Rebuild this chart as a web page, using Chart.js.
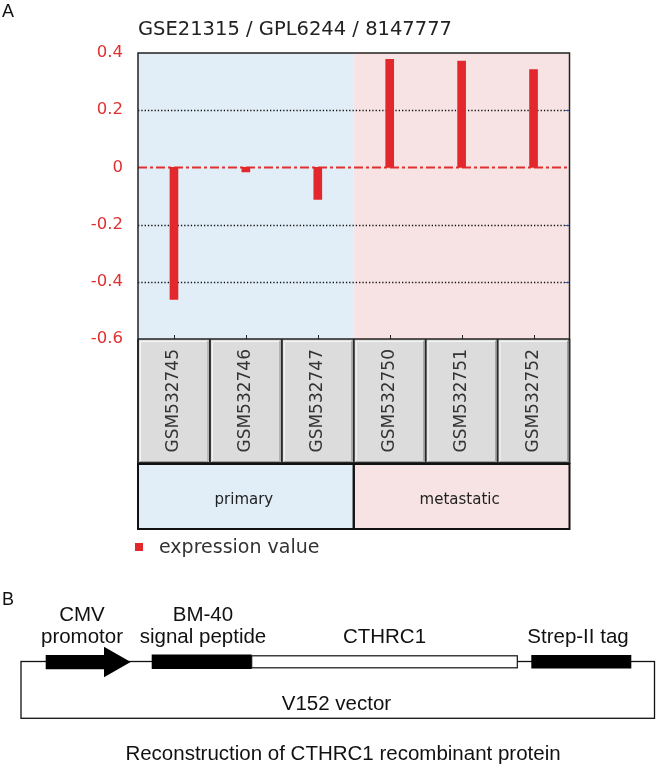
<!DOCTYPE html>
<html>
<head>
<meta charset="utf-8">
<script src="https://cdn.jsdelivr.net/npm/chart.js@4.4.1/dist/chart.umd.min.js"></script>
<style>
  body { margin: 0; background: #fff; }
  #wrap { position: relative; width: 658px; height: 764px; }
  #chart { position: absolute; left: 0; top: 0; }
  #overlay { position: absolute; left: 0; top: 0; pointer-events: none; }
</style>
</head>
<body>
<div id="wrap">
  <canvas id="chart" width="658" height="764"></canvas>
  <svg id="overlay" width="658" height="764" xmlns="http://www.w3.org/2000/svg">
    <!-- panel A texts -->
    <text x="2" y="17" font-family="Liberation Sans" font-size="18" fill="#111">A</text>
    <text x="138" y="34.5" font-family="DejaVu Sans" font-size="19.5" fill="#222">GSE21315 / GPL6244 / 8147777</text>
    <rect x="135" y="543" width="8" height="8" fill="#e2282c"/>
    <text x="159" y="553" font-family="DejaVu Sans" font-size="19" fill="#333">expression value</text>

    <!-- panel B: vector diagram -->
    <text x="2" y="605" font-family="Liberation Sans" font-size="18" fill="#111">B</text>
    <g font-family="Liberation Sans" font-size="20.5" fill="#111" text-anchor="middle">
      <text x="82" y="620.7">CMV</text>
      <text x="82" y="643">promotor</text>
      <text x="203" y="620.7">BM-40</text>
      <text x="203" y="643">signal peptide</text>
      <text x="384.5" y="643">CTHRC1</text>
      <text x="578" y="643">Strep-II tag</text>
      <text x="336.5" y="710">V152 vector</text>
      <text x="343" y="760">Reconstruction of CTHRC1 recombinant protein</text>
    </g>
    <rect x="21" y="661.5" width="633.5" height="56.8" fill="none" stroke="#111" stroke-width="1.3"/>
    <polygon points="45.7,655 104,655 104,646.7 130.7,662 104,677.3 104,669.3 45.7,669.3" fill="#000"/>
    <rect x="151.7" y="654.5" width="100" height="14.5" fill="#000"/>
    <rect x="251.7" y="655.8" width="265.6" height="12" fill="#fff" stroke="#111" stroke-width="1.2"/>
    <rect x="531.3" y="655" width="100" height="13.5" fill="#000"/>
  </svg>
</div>
<script>
// data
const samples = ["GSM532745", "GSM532746", "GSM532747", "GSM532750", "GSM532751", "GSM532752"];
const sampleGroups = ["primary", "primary", "primary", "metastatic", "metastatic", "metastatic"];
const groupNames = ["primary", "metastatic"];
const expressionValues = [-0.462, -0.016, -0.112, 0.378, 0.372, 0.342];
const yTicks = [-0.6, -0.4, -0.2, 0, 0.2, 0.4];
const seriesName = "expression value";

// styles
const groupColors = { primary: "#e1eef8", metastatic: "#f8e3e4" };
const barColor = "#e2282c";
const cellBottom = 463;   // bottom of the grey sample cells
const groupTop = 464;
const groupBottom = 529;

function groupSpan(x, g, step) {
    const idx = sampleGroups.map((v, i) => v === g ? i : -1).filter(i => i >= 0);
    return [x.getPixelForValue(idx[0]) - step / 2, x.getPixelForValue(idx[idx.length - 1]) + step / 2];
}

const panelPlugin = {
    id: "panel",
    beforeDraw(chart) {
        const { ctx, chartArea: a, scales: { x } } = chart;
        const step = (a.right - a.left) / samples.length;
        ctx.save();

        // group colour bands behind the bars and the group boxes
        groupNames.forEach(g => {
            const [x0, x1] = groupSpan(x, g, step);
            ctx.fillStyle = groupColors[g];
            ctx.fillRect(x0, a.top, x1 - x0, a.bottom - a.top);
            ctx.fillRect(x0, groupTop, x1 - x0, groupBottom - groupTop);
        });

        // grey sample cells
        samples.forEach((s, i) => {
            const cx = x.getPixelForValue(i);
            const x0 = cx - step / 2, x1 = cx + step / 2;
            ctx.fillStyle = "#dcdcdc";
            ctx.fillRect(x0, a.bottom, step, cellBottom - a.bottom);
            ctx.lineWidth = 1;
            ctx.strokeStyle = "#f6f6f6";
            ctx.beginPath();
            ctx.moveTo(x0 + 2.5, cellBottom - 2);
            ctx.lineTo(x0 + 2.5, a.bottom + 2.5);
            ctx.lineTo(x1 - 2, a.bottom + 2.5);
            ctx.stroke();
            ctx.strokeStyle = "#a0a0a0";
            ctx.beginPath();
            ctx.moveTo(x1 - 2, a.bottom + 2);
            ctx.lineTo(x1 - 2, cellBottom - 1.5);
            ctx.lineTo(x0 + 2, cellBottom - 1.5);
            ctx.stroke();
            // separator
            ctx.strokeStyle = "#2a2a2a";
            ctx.lineWidth = 2;
            ctx.beginPath();
            ctx.moveTo(x0, a.bottom);
            ctx.lineTo(x0, cellBottom);
            ctx.stroke();
        });
        ctx.strokeStyle = "#2a2a2a";
        ctx.lineWidth = 2;
        ctx.beginPath();
        ctx.moveTo(a.right, a.bottom);
        ctx.lineTo(a.right, cellBottom);
        ctx.moveTo(a.left - 1, cellBottom);
        ctx.lineTo(a.right + 1, cellBottom);
        ctx.stroke();

        // group boxes
        ctx.strokeStyle = "#111";
        ctx.lineWidth = 2;
        ctx.font = "15px 'DejaVu Sans'";
        ctx.textAlign = "center";
        ctx.textBaseline = "middle";
        groupNames.forEach(g => {
            const [x0, x1] = groupSpan(x, g, step);
            ctx.strokeRect(x0, groupTop, x1 - x0, groupBottom - groupTop);
            ctx.fillStyle = "#222";
            ctx.fillText(g, (x0 + x1) / 2 - 2, groupTop + 36);
        });
        ctx.restore();
    },
    beforeDatasetsDraw(chart) {
        const { ctx, chartArea: a, scales: { x, y } } = chart;
        ctx.save();
        yTicks.forEach(v => {
            if (v === yTicks[0] || v === yTicks[yTicks.length - 1]) return;
            const py = Math.round(y.getPixelForValue(v)) + 0.5;
            if (v === 0) {
                ctx.strokeStyle = "#e03030";
                ctx.lineWidth = 1.8;
                ctx.setLineDash([9, 3, 3, 3]);
            } else {
                ctx.strokeStyle = "#111";
                ctx.lineWidth = 1.3;
                ctx.setLineDash([1.3, 2]);
            }
            ctx.beginPath();
            ctx.moveTo(a.left, py);
            ctx.lineTo(a.right, py);
            ctx.stroke();
            if (v !== 0) {
                ctx.setLineDash([]);
                ctx.lineWidth = 1;
                ctx.strokeStyle = "#3a55b0";
                ctx.beginPath();
                ctx.moveTo(a.right - 5, py);
                ctx.lineTo(a.right, py);
                ctx.stroke();
            }
        });
        ctx.setLineDash([]);
        // small category ticks on the bottom edge
        ctx.strokeStyle = "#222";
        ctx.lineWidth = 1;
        samples.forEach((s, i) => {
            const px = Math.round(x.getPixelForValue(i)) + 0.5;
            ctx.beginPath();
            ctx.moveTo(px, a.bottom - 4);
            ctx.lineTo(px, a.bottom);
            ctx.stroke();
        });
        ctx.restore();
    },
    afterDatasetsDraw(chart) {
        const { ctx, chartArea: a } = chart;
        ctx.save();
        ctx.strokeStyle = "#222";
        ctx.lineWidth = 1.5;
        ctx.beginPath();
        ctx.moveTo(a.left, a.bottom);
        ctx.lineTo(a.left, a.top);
        ctx.lineTo(a.right, a.top);
        ctx.lineTo(a.right, a.bottom);
        ctx.lineTo(a.left, a.bottom);
        ctx.stroke();
        ctx.restore();
    }
};

const chart = new Chart(document.getElementById("chart"), {
    type: "bar",
    data: {
        labels: samples,
        datasets: [{
            label: seriesName,
            data: expressionValues,
            backgroundColor: barColor,
            barThickness: 8
        }]
    },
    options: {
        responsive: false,
        animation: false,
        layout: { padding: { top: 53, right: 88.5, bottom: 235, left: 0 } },
        plugins: { legend: { display: false }, tooltip: { enabled: false } },
        scales: {
            x: {
                grid: { display: false },
                border: { display: false },
                ticks: {
                    autoSkip: false,
                    minRotation: 90,
                    maxRotation: 90,
                    padding: 2,
                    color: "#333",
                    font: { family: "DejaVu Sans", size: 17 }
                },
                afterFit: s => { s.height = 190; }
            },
            y: {
                min: yTicks[0],
                max: yTicks[yTicks.length - 1],
                grid: { display: false },
                border: { display: false },
                afterBuildTicks: s => { s.ticks = yTicks.map(v => ({ value: v })); },
                ticks: {
                    color: "#e03030",
                    padding: 7,
                    font: { family: "DejaVu Sans", size: 16.5 },
                    callback: v => v === 0 ? "0" : v.toFixed(1)
                },
                afterFit: s => { s.width = 138; }
            }
        }
    },
    plugins: [panelPlugin]
});
</script>
</body>
</html>
